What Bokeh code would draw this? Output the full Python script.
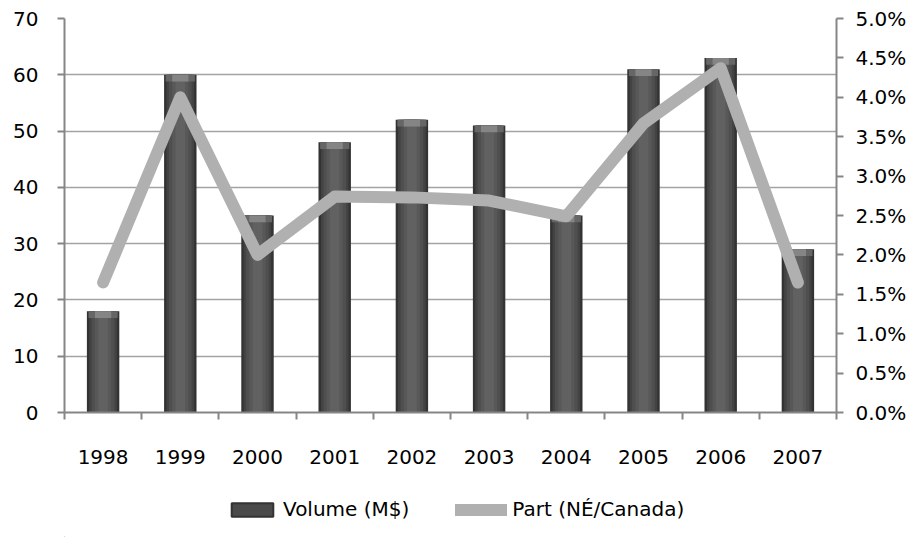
from bokeh.plotting import figure
from bokeh.layouts import column
from bokeh.models import (Range1d, LinearAxis, FixedTicker, NumeralTickFormatter,
                          Legend, LegendItem, ColumnDataSource)
from bokeh.embed import file_html
from bokeh.resources import INLINE

# Annual data
years = ["1998", "1999", "2000", "2001", "2002", "2003", "2004", "2005", "2006", "2007"]
volume = [18, 60, 35, 48, 52, 51, 35, 61, 63, 29]          # M$
part = [0.0165, 0.040, 0.020, 0.0274, 0.0273, 0.0269, 0.0249, 0.0367, 0.0437, 0.0165]  # NÉ / Canada

idx = list(range(len(years)))
src = ColumnDataSource(dict(x=idx, vol=volume, part=part,
                            cap=[v - 1.2 for v in volume]))

FONT = "DejaVu Sans"
GRID = "#a3a3a3"
AXIS = "#868686"
BAR_EDGE = "#333333"
LINE_COLOR = "#b0b0b0"

p = figure(width=919, height=480, output_backend="svg", toolbar_location=None,
           x_range=Range1d(-0.5, len(years) - 0.5), y_range=Range1d(0, 70),
           min_border_left=64, min_border_right=83, min_border_top=18,
           min_border_bottom=68, outline_line_color=None)
p.extra_y_ranges = {"pct": Range1d(0, 0.05)}

# Bars: layered strips give a rounded, cylinder-like shading
bw = 0.42
p.vbar(x="x", top="vol", bottom=0, width=bw, source=src,
       fill_color=BAR_EDGE, line_color=None)
for w, c in [(0.85, "#434343"), (0.7, "#4f4f4f"), (0.5, "#585858"), (0.3, "#616161")]:
    p.vbar(x="x", top="vol", bottom=0, width=bw * w, source=src,
           fill_color=c, line_color=None)
# softer highlight on the top of each bar
p.vbar(x="x", top="vol", bottom="cap", width=bw * 0.9, source=src,
       fill_color="#666666", line_color=None)
p.vbar(x="x", top="vol", bottom="cap", width=bw * 0.5, source=src,
       fill_color="#858585", line_color=None)

# Share line on the secondary axis
p.line(x="x", y="part", source=src, y_range_name="pct",
       line_color=LINE_COLOR, line_width=12,
       line_cap="round", line_join="round")

# Horizontal grid
p.xgrid.grid_line_color = None
p.ygrid.grid_line_color = GRID
p.ygrid.grid_line_width = 1.5
p.ygrid.ticker = FixedTicker(ticks=list(range(0, 71, 10)))

# Bottom axis: labels centred on bars, tick marks between categories
xa = p.xaxis[0]
xa.ticker = FixedTicker(ticks=idx, minor_ticks=[i - 0.5 for i in range(len(years) + 1)])
xa.major_label_overrides = {i: y for i, y in enumerate(years)}
xa.major_tick_out = 0
xa.major_tick_in = 0
xa.minor_tick_out = 7
xa.minor_tick_in = 0
xa.minor_tick_line_color = AXIS
xa.minor_tick_line_width = 2
xa.axis_line_color = AXIS
xa.axis_line_width = 2
xa.major_label_standoff = 30
xa.major_label_text_font = FONT
xa.major_label_text_font_size = "20px"
xa.major_label_text_color = "#000000"

# Left axis
ya = p.yaxis[0]
ya.ticker = FixedTicker(ticks=list(range(0, 71, 10)))
ya.minor_tick_line_color = None
ya.major_tick_out = 7
ya.major_tick_in = 0
ya.major_tick_line_color = AXIS
ya.major_tick_line_width = 2
ya.axis_line_color = AXIS
ya.axis_line_width = 2
ya.major_label_standoff = 19
ya.major_label_text_font = FONT
ya.major_label_text_font_size = "20px"
ya.major_label_text_color = "#000000"

# Right axis for the share
ra = LinearAxis(y_range_name="pct",
                ticker=FixedTicker(ticks=[i * 0.005 for i in range(11)]),
                formatter=NumeralTickFormatter(format="0.0%"))
ra.minor_tick_line_color = None
ra.major_tick_out = 7
ra.major_tick_in = 0
ra.major_tick_line_color = AXIS
ra.major_tick_line_width = 2
ra.axis_line_color = AXIS
ra.axis_line_width = 2
ra.major_label_standoff = 12
ra.major_label_text_font = FONT
ra.major_label_text_font_size = "20px"
ra.major_label_text_color = "#000000"
p.add_layout(ra, "right")

# Legend strip under the chart (swatch renderers sit outside the visible range)
leg = figure(width=919, height=57, output_backend="svg", toolbar_location=None,
             x_range=Range1d(0, 1), y_range=Range1d(0, 1),
             min_border_left=0, min_border_right=0, min_border_top=0,
             min_border_bottom=0, outline_line_color=None)
leg.axis.visible = False
leg.grid.visible = False
sw_bar = leg.vbar(x=[-10], top=[-10], bottom=[-11], width=0.1,
                  fill_color="#4a4a4a", line_color=BAR_EDGE, line_width=2)
sw_line = leg.line(x=[-10, -9], y=[-10, -10], line_color=LINE_COLOR,
                   line_width=12, line_cap="round")

legend = Legend(items=[LegendItem(label="Volume (M$)", renderers=[sw_bar]),
                       LegendItem(label="Part (NÉ/Canada)", renderers=[sw_line])],
                orientation="horizontal", location=(162, 16),
                glyph_width=52, glyph_height=17, label_standoff=5, spacing=46,
                padding=0, margin=0, border_line_color=None,
                background_fill_alpha=0,
                label_text_font=FONT, label_text_font_size="20px",
                label_text_color="#000000")
leg.add_layout(legend, "center")

open("out.html", "w").write(file_html(column(p, leg, spacing=0), INLINE))
